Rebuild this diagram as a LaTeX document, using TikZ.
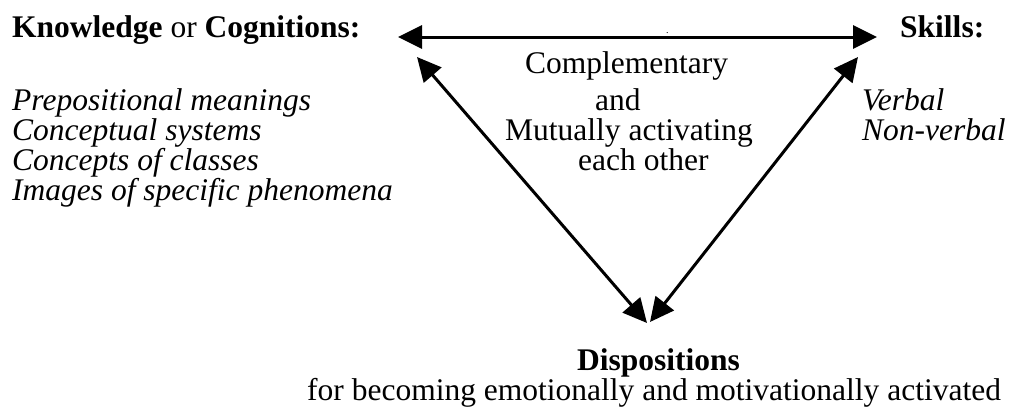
\documentclass[tikz,border=0pt]{standalone}
\usepackage{fontspec}
\setmainfont{Liberation Serif}[ItalicFont={Liberation Serif Italic},BoldFont={Liberation Serif Bold}]
\usepackage{tikz}
\usetikzlibrary{arrows.meta}
\tikzstyle{every node}=[inner sep=0pt,anchor=base west,font=\fontsize{31.5}{30}\selectfont]
\tikzstyle{link}=[line width=3pt,{Triangle[length=24pt,width=23pt]}-{Triangle[length=24pt,width=23pt]}]

\begin{document}
\begin{tikzpicture}[x=1pt,y=-1pt]
          \useasboundingbox (0,0) rectangle (1013,410);
          \node (knowledge) at (12,37) {\textbf{Knowledge} or \textbf{Cognitions:}};
          \node (skills) at (900,37) {\textbf{Skills:}};
          \node (kn1) at (12,110) {\textit{Prepositional meanings}};
          \node (kn2) at (12,140) {\textit{Conceptual systems}};
          \node (kn3) at (12,170) {\textit{Concepts of classes}};
          \node (kn4) at (12,200) {\textit{Images of specific phenomena}};
          \node (sk1) at (862,110) {\textit{Verbal}};
          \node (sk2) at (862,140) {\textit{Non-verbal}};
          \node (mid1) at (525,73) {Complementary};
          \node (mid2) at (595,110) {and};
          \node (mid3) at (505,140) {Mutually activating};
          \node (mid4) at (578,170) {each other};
          \node (dot) [font=\fontsize{10}{10}\selectfont] at (666,33) {.};
          \node (disp) at (577,370) {\textbf{Dispositions}};
          \node (disp1) at (307,400) {for becoming emotionally and motivationally activated};
          \coordinate (kn tip) at (398,37);
          \coordinate (sk tip) at (877,37);
          \coordinate (kn low) at (417,57);
          \coordinate (sk low) at (858,57);
          \coordinate (disp l) at (647,323);
          \coordinate (disp r) at (650,322);
          \draw[link] (kn tip) -- (sk tip);
          \draw[link] (kn low) -- (disp l);
          \draw[link] (sk low) -- (disp r);
        \end{tikzpicture}
\end{document}
